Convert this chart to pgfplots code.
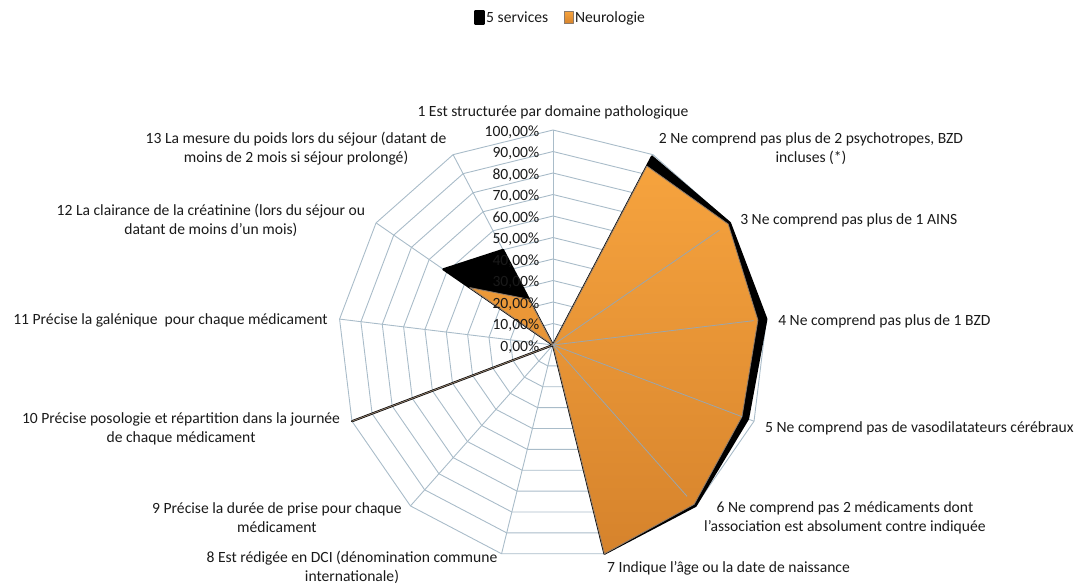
\documentclass[border=0pt]{standalone}
\usepackage{pgfplots}
\pgfplotsset{compat=1.18}
\usepackage{pgfplotstable}
\usepackage{fontspec}
\setmainfont{Carlito}
\definecolor{gridc}{HTML}{A9BCC9}
\definecolor{spokec}{HTML}{9AA6AE}
\definecolor{orTop}{HTML}{F6A33E}
\definecolor{orBot}{HTML}{D6832C}
\definecolor{orLine}{HTML}{8C7B6C}
\definecolor{txt}{HTML}{1A1A1A}

% i = axis index (0 = "1 Est structurée ..."), values in %
\pgfplotstableread{
i s n
0 0 0
1 99 94
2 100 99
3 100 96
4 97 94
5 100 99
6 100 100
7 0 0
8 0 0
9 100 100
10 0 0
11 62 47
12 50 24
13 0 0
}\radar

\begin{document}
\begin{tikzpicture}
\begin{axis}[
  x=2.15pt, y=2.15pt,
  xmin=-257.21, xmax=246.05,
  ymin=-111.16, ymax=160.47,
  enlargelimits=false,
  hide axis, clip=false,
  font=\fontsize{15.6}{19}\selectfont\color{txt},
  legend columns=2,
  legend image code/.code={\path[#1] (0pt,-6pt) rectangle (9pt,6pt);},
  legend style={draw=none, fill=none, at={(0.5176,0.970)}, anchor=center,
    font=\fontsize{15.6}{19}\selectfont\color{txt},
    nodes={inner sep=1.5pt},
    /tikz/every even column/.append style={column sep=14pt}},
]
% frame of the picture
\path (axis cs:-257.21,-111.16) rectangle (axis cs:246.05,160.47);
% grid rings
\pgfplotsinvokeforeach{10,20,30,40,50,60,70,80,90,100}{
  \draw[gridc, line width=0.9pt, line join=miter]
    (axis cs:0,#1) \foreach \t in {1,...,13} { -- (axis cs:{#1*sin(\t*360/13)},{#1*cos(\t*360/13)}) } -- cycle;
}
% spokes
\pgfplotsinvokeforeach{0,...,12}{
  \draw[gridc, line width=0.9pt] (axis cs:0,0) -- (axis cs:{100*sin(#1*360/13)},{100*cos(#1*360/13)});
}

\addplot[draw=black, fill=black, line width=2.1pt, line join=round]
  table[x expr={\thisrow{s}*sin(\thisrow{i}*360/13)}, y expr={\thisrow{s}*cos(\thisrow{i}*360/13)}] {\radar};
\addlegendentry{5 services}
\addplot[draw=orLine, line width=0.8pt, top color=orTop, bottom color=orBot, line join=round]
  table[x expr={\thisrow{n}*sin(\thisrow{i}*360/13)}, y expr={\thisrow{n}*cos(\thisrow{i}*360/13)}] {\radar};
\addlegendentry{Neurologie}

% spokes over the areas
\pgfplotsinvokeforeach{2,3,4,5}{
  \draw[spokec, line width=0.8pt] (axis cs:0,0) -- (axis cs:{94*sin(#1*360/13)},{94*cos(#1*360/13)});
}

% value labels
\pgfplotsinvokeforeach{0,10,20,30,40,50,60,70,80,90,100}{
  \node[anchor=east, inner sep=0pt] at (axis cs:-6.3,#1-0.9) {#1,00\%};
}

% category labels
\begin{scope}[every node/.style={inner sep=0pt, align=center}]
\node at (axis cs:0,108.4) {1 Est structurée par domaine pathologique};
\node at (axis cs:120,91.2) {2 Ne comprend pas plus de 2 psychotropes, BZD\\incluses (*)};
\node[anchor=west] at (axis cs:87.0,58.1) {3 Ne comprend pas plus de 1 AINS};
\node[anchor=west] at (axis cs:104.7,11.2) {4 Ne comprend pas plus de 1 BZD};
\node[anchor=west] at (axis cs:98.6,-38.6) {5 Ne comprend pas de vasodilatateurs cérébraux};
\node at (axis cs:135.8,-80.2) {6 Ne comprend pas 2 médicaments dont\\l’association est absolument contre indiquée};
\node[anchor=west] at (axis cs:25.1,-103.7) {7 Indique l’âge ou la date de naissance};
\node at (axis cs:-93.5,-103.5) {8 Est rédigée en DCI (dénomination commune\\internationale)};
\node at (axis cs:-128.4,-80.2) {9 Précise la durée de prise pour chaque\\médicament};
\node at (axis cs:-173,-38.8) {10 Précise posologie et répartition dans la journée\\de chaque médicament};
\node[anchor=east] at (axis cs:-104.7,11.2) {11 Précise la galénique\ \ pour chaque médicament};
\node at (axis cs:-159.1,57.9) {12 La clairance de la créatinine (lors du séjour ou\\datant de moins d'un mois)};
\node at (axis cs:-119.5,91.4) {13 La mesure du poids lors du séjour (datant de\\moins de 2 mois si séjour prolongé)};
\end{scope}
\end{axis}
\end{tikzpicture}
\end{document}
